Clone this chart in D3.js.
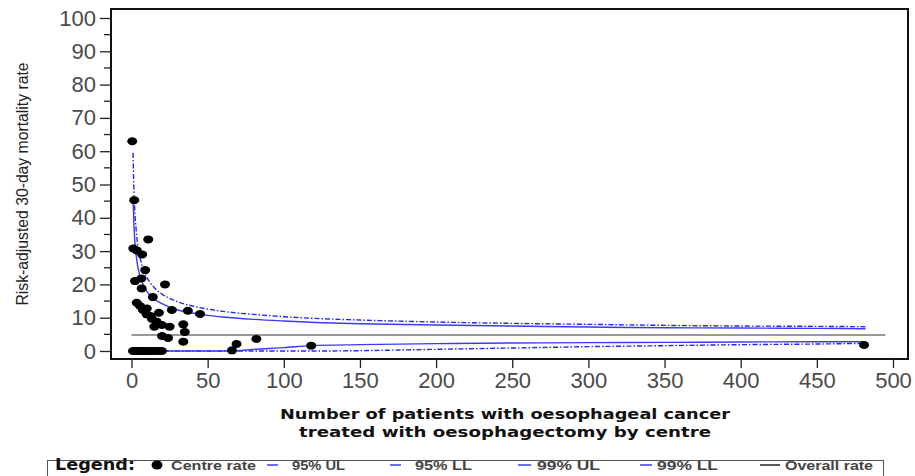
<!DOCTYPE html>
<html>
<head>
<meta charset="utf-8">
<script src="https://cdn.jsdelivr.net/npm/d3@7"></script>
<style>
  body { margin: 0; background: #fff; }
  text { font-family: "Liberation Sans", Arial, sans-serif; }
</style>
</head>
<body>
<div id="chart"></div>
<script>
// centre volumes and risk-adjusted 30-day mortality (%)
const centreN = [0.5, 1.8, 11, 1.2, 3.5, 7, 9, 2.3, 6.5, 6.7, 22, 14, 3.4, 5.6, 7.5, 10, 10, 12.5, 13.5,
  16.5, 20, 18, 26.5, 37, 45, 25, 34, 35, 34, 20, 24, 15, 69, 66, 82, 118, 481,
  1, 2.5, 4, 5.5, 7, 8.5, 10, 12, 14, 16, 18, 20];
const centreRate = [63, 45.3, 33.5, 30.8, 30.2, 29, 24.3, 21, 21.8, 18.8, 20, 16.2, 14.5, 13.5, 12.3, 12.8, 11, 10.5, 9.6,
  8.8, 7.8, 11.5, 12.3, 12.1, 11.1, 7.3, 8, 5.7, 2.8, 4.5, 3.9, 7.3, 2.1, 0.2, 3.6, 1.6, 1.8,
  0, 0, 0, 0, 0, 0, 0, 0, 0, 0, 0, 0];

// upper control limits read along the funnel
const upperN = [1, 1.5, 2, 3, 4, 5, 6, 8, 10, 12, 15, 20, 25, 30, 40, 50, 60, 80, 100, 125, 150, 200, 250, 300, 350, 400, 450, 482];
const ul95 = [46.5, 39, 34.2, 29, 25.7, 23.4, 21.8, 19.6, 18, 16.9, 15.6, 14.2, 13.2, 12.4, 11.4, 10.7, 10.2, 9.5, 9, 8.5, 8.2, 7.8, 7.5, 7.2, 7.0, 6.9, 6.8, 6.7];
const ul99 = [59.5, 49.8, 43.7, 36.6, 32.3, 29.4, 27.3, 24.3, 22.2, 20.7, 19, 17.1, 15.8, 14.8, 13.5, 12.6, 11.9, 11, 10.3, 9.7, 9.3, 8.7, 8.3, 8.0, 7.7, 7.5, 7.4, 7.3];

// lower control limits
const ll95N = [1, 66, 80, 100, 118, 150, 200, 250, 300, 350, 400, 450, 482];
const ll95 = [0, 0, 0.5, 1.0, 1.6, 1.9, 2.2, 2.4, 2.5, 2.6, 2.7, 2.8, 2.8];
const ll99N = [1, 120, 150, 200, 250, 300, 350, 400, 450, 482];
const ll99 = [0, 0, 0.1, 0.5, 0.9, 1.3, 1.6, 1.9, 2.1, 2.3];

const overallRate = 4.8;
const overallN = [0, 495];

const xTicks = d3.range(0, 501, 50);
const yTicks = d3.range(0, 101, 10);
const yMinor = d3.range(5, 100, 10);

const legendLabels = ['Centre rate', '95% UL', '95% LL', '99% UL', '99% LL', 'Overall rate'];
const yTitle = 'Risk-adjusted 30-day mortality rate';
const xTitle = ['Number of patients with oesophageal cancer', 'treated with oesophagectomy by centre'];

const width = 915, height = 476;
const frame = { left: 111, top: 9, right: 908, bottom: 359 };

const svg = d3.select('#chart')
  .append('svg')
  .attr('width', width)
  .attr('height', height);

const x = d3.scaleLinear().domain([0, 500]).range([131.5, 893]);
const y = d3.scaleLinear().domain([0, 100]).range([351, 18]);

const blue = '#3a3aff';
const lineGen = d3.line()
  .x(d => x(d[0]))
  .y(d => y(d[1]))
  .curve(d3.curveMonotoneX);

// limits
const limits = [
  { n: upperN, v: ul99, dash: '5,2,1.5,2', color: '#2626f0' },
  { n: upperN, v: ul95, dash: null, color: blue },
  { n: ll99N, v: ll99, dash: '5,2,1.5,2', color: '#2626f0' },
  { n: ll95N, v: ll95, dash: null, color: blue }
];
limits.forEach(l => {
  svg.append('path')
    .datum(l.n.map((n, i) => [n, l.v[i]]))
    .attr('d', lineGen)
    .attr('fill', 'none')
    .attr('stroke', l.color)
    .attr('stroke-width', 1.4)
    .attr('stroke-dasharray', l.dash);
});

// overall rate
svg.append('line')
  .attr('x1', x(overallN[0])).attr('x2', x(overallN[1]))
  .attr('y1', y(overallRate)).attr('y2', y(overallRate))
  .attr('stroke', '#777')
  .attr('stroke-width', 1.5);

// centres
svg.selectAll('ellipse.centre')
  .data(centreN.map((n, i) => [n, centreRate[i]]))
  .enter()
  .append('ellipse')
  .attr('class', 'centre')
  .attr('cx', d => x(d[0]))
  .attr('cy', d => y(d[1]))
  .attr('rx', 5)
  .attr('ry', 4)
  .attr('fill', '#000');

// frame
svg.append('rect')
  .attr('x', frame.left).attr('y', frame.top)
  .attr('width', frame.right - frame.left)
  .attr('height', frame.bottom - frame.top)
  .attr('fill', 'none')
  .attr('stroke', '#111')
  .attr('stroke-width', 2);

// y axis
const yAxis = svg.append('g')
  .attr('transform', `translate(${frame.left},0)`)
  .call(d3.axisLeft(y).tickValues(yTicks).tickSize(11).tickPadding(4));
yAxis.select('.domain').remove();
yAxis.selectAll('line').attr('stroke', '#222').attr('stroke-width', 1.3);
yAxis.selectAll('text')
  .attr('fill', '#4a4a4a')
  .style('font-size', '22px')
  .style('font-family', '"Liberation Sans", Arial, sans-serif');

svg.append('g')
  .selectAll('line')
  .data(yMinor)
  .enter()
  .append('line')
  .attr('x1', frame.left - 7).attr('x2', frame.left)
  .attr('y1', d => y(d)).attr('y2', d => y(d))
  .attr('stroke', '#222')
  .attr('stroke-width', 1.3);

// x axis
const xAxis = svg.append('g')
  .attr('transform', `translate(0,${frame.bottom})`)
  .call(d3.axisBottom(x).tickValues(xTicks).tickSize(9).tickPadding(4));
xAxis.select('.domain').remove();
xAxis.selectAll('line').attr('stroke', '#222').attr('stroke-width', 1.3);
xAxis.selectAll('text')
  .attr('fill', '#4a4a4a')
  .style('font-size', '22px')
  .style('font-family', '"Liberation Sans", Arial, sans-serif');

// axis titles
svg.append('text')
  .attr('transform', 'translate(28,184) rotate(-90)')
  .attr('text-anchor', 'middle')
  .attr('textLength', 243)
  .attr('lengthAdjust', 'spacingAndGlyphs')
  .style('font-size', '16px')
  .attr('fill', '#222')
  .text(yTitle);

svg.selectAll('text.xtitle')
  .data(xTitle)
  .enter()
  .append('text')
  .attr('class', 'xtitle')
  .attr('x', 505)
  .attr('y', (d, i) => 419 + i * 18)
  .attr('text-anchor', 'middle')
  .attr('textLength', (d, i) => i === 0 ? 450 : 412)
  .attr('lengthAdjust', 'spacingAndGlyphs')
  .style('font-family', '"DejaVu Sans", sans-serif')
  .style('font-weight', 'bold')
  .style('font-size', '14px')
  .attr('fill', '#111')
  .text(d => d);

// legend
const legend = svg.append('g');
legend.append('rect')
  .attr('x', 47.5).attr('y', 460.5)
  .attr('width', 836).attr('height', 30)
  .attr('fill', '#fff')
  .attr('stroke', '#555')
  .attr('stroke-width', 1);

legend.append('text')
  .attr('x', 55).attr('y', 470)
  .attr('textLength', 80)
  .attr('lengthAdjust', 'spacingAndGlyphs')
  .style('font-family', '"DejaVu Sans", sans-serif')
  .style('font-weight', 'bold')
  .style('font-size', '15px')
  .attr('fill', '#111')
  .text('Legend:');

legend.append('ellipse')
  .attr('cx', 157).attr('cy', 465)
  .attr('rx', 5.5).attr('ry', 4.5)
  .attr('fill', '#000');

const keyLines = [null, [267, 278], [390, 401], [518, 531], [640, 652], [760, 780]];
const keyText = [[171, 85], [292, 53], [415, 57], [537, 63], [657, 61], [785, 88]];
legendLabels.forEach((lab, i) => {
  if (keyLines[i]) {
    legend.append('line')
      .attr('x1', keyLines[i][0]).attr('x2', keyLines[i][1])
      .attr('y1', 465).attr('y2', 465)
      .attr('stroke', i === 5 ? '#222' : blue)
      .attr('stroke-width', 1.5);
  }
  legend.append('text')
    .attr('x', keyText[i][0]).attr('y', 469.5)
    .attr('textLength', keyText[i][1])
    .attr('lengthAdjust', 'spacingAndGlyphs')
    .style('font-size', '13px')
    .style('font-weight', 'bold')
    .attr('fill', '#444')
    .text(lab);
});
</script>
</body>
</html>
